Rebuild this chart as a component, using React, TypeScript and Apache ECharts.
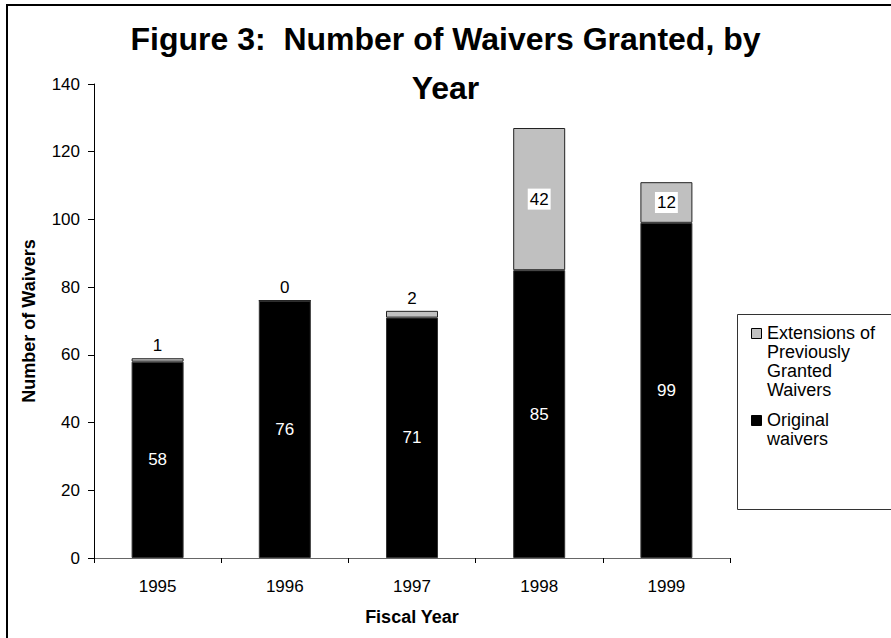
import React, { useEffect, useRef } from "react";
import * as echarts from "echarts";

const years = ["1995", "1996", "1997", "1998", "1999"];
const originalWaivers = [58, 76, 71, 85, 99];
const extensionWaivers = [1, 0, 2, 42, 12];
const seriesNames = ["Original waivers", "Extensions of Previously Granted Waivers"];
const legendTexts = ["Extensions of\nPreviously\nGranted\nWaivers", "Original\nwaivers"];
const titleText = "Figure 3:  Number of Waivers Granted, by\nYear";
const xAxisName = "Fiscal Year";
const yAxisName = "Number of Waivers";
const yMin = 0;
const yMax = 140;
const yStep = 20;

const FONT = '"Liberation Sans", Arial, sans-serif';
const GRAY = "#c0c0c0";
const BLACK = "#000000";

export default function App() {
  const ref = useRef<HTMLDivElement>(null);
  useEffect(() => {
    if (!ref.current) return;
    const chart = echarts.init(ref.current, null, { renderer: "svg" });
    chart.setOption({
      animation: false,
      backgroundColor: "#ffffff",
      textStyle: { fontFamily: FONT },
      title: {
        text: titleText,
        left: "center",
        top: 9,
        textStyle: {
          fontFamily: FONT,
          fontSize: 32,
          fontWeight: "bold",
          color: "#000",
          lineHeight: 49,
        },
      },
      grid: { left: 94, right: 161, top: 84, bottom: 80, containLabel: false },
      legend: { show: false },
      xAxis: {
        type: "category",
        data: years,
        name: xAxisName,
        nameLocation: "middle",
        nameGap: 50,
        nameTextStyle: { fontFamily: FONT, fontSize: 18, fontWeight: "bold", color: "#000" },
        axisLine: { lineStyle: { color: "#666", width: 1 } },
        axisTick: { show: true, length: 5, alignWithLabel: false, lineStyle: { color: "#000" } },
        axisLabel: { fontFamily: FONT, fontSize: 17, color: "#000", margin: 20 },
      },
      yAxis: {
        type: "value",
        min: yMin,
        max: yMax,
        interval: yStep,
        name: yAxisName,
        nameLocation: "middle",
        nameGap: 56,
        nameRotate: 90,
        nameTextStyle: { fontFamily: FONT, fontSize: 18, fontWeight: "bold", color: "#000" },
        axisLine: { show: true, lineStyle: { color: "#000", width: 1 } },
        axisTick: { show: true, length: 6, lineStyle: { color: "#000" } },
        axisLabel: { fontFamily: FONT, fontSize: 17, color: "#000", margin: 14 },
        splitLine: { show: false },
      },
      series: [
        {
          name: seriesNames[0],
          type: "bar",
          stack: "total",
          barWidth: 52,
          data: originalWaivers,
          itemStyle: { color: BLACK, borderColor: "#333", borderWidth: 1 },
          label: {
            show: true,
            position: "inside",
            color: "#fff",
            fontFamily: FONT,
            fontSize: 17,
          },
        },
        {
          name: seriesNames[1],
          type: "bar",
          stack: "total",
          barWidth: 52,
          data: extensionWaivers.map((v) => ({
            value: v,
            label: { position: v >= 10 ? "inside" : "top" },
          })),
          itemStyle: { color: GRAY, borderColor: "#222", borderWidth: 1 },
          label: {
            show: true,
            color: "#000",
            fontFamily: FONT,
            fontSize: 17,
            backgroundColor: "#fff",
            padding: [2, 2],
            distance: 2,
          },
        },
      ],
      graphic: [
        {
          type: "rect",
          silent: true,
          shape: { x: 7, y: 5, width: 950, height: 800 },
          style: { fill: "none", stroke: "#000", lineWidth: 2 },
          z: 100,
        },
        {
          type: "rect",
          silent: true,
          shape: { x: 737.5, y: 314.5, width: 200, height: 195 },
          style: { fill: "#fff", stroke: "#333", lineWidth: 1 },
        },
        {
          type: "rect",
          silent: true,
          shape: { x: 751.5, y: 328.5, width: 10, height: 10 },
          style: { fill: GRAY, stroke: "#000", lineWidth: 1 },
        },
        {
          type: "text",
          silent: true,
          x: 767,
          y: 323.5,
          style: {
            text: legendTexts[0],
            fontFamily: FONT,
            fontSize: 18,
            lineHeight: 19,
            fill: "#000",
            verticalAlign: "top",
          },
        },
        {
          type: "rect",
          silent: true,
          shape: { x: 751.5, y: 415.5, width: 10, height: 10 },
          style: { fill: BLACK, stroke: "#000", lineWidth: 1 },
        },
        {
          type: "text",
          silent: true,
          x: 767,
          y: 410.5,
          style: {
            text: legendTexts[1],
            fontFamily: FONT,
            fontSize: 18,
            lineHeight: 19,
            fill: "#000",
            verticalAlign: "top",
          },
        },
      ],
    });
    return () => chart.dispose();
  }, []);
  return (
    <div
      ref={ref}
      style={{ position: "absolute", left: 0, top: 0, width: 891, height: 638 }}
    />
  );
}
